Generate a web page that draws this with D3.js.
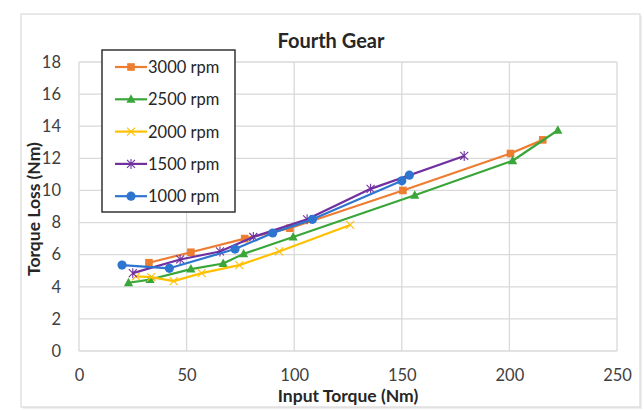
<!DOCTYPE html>
<html><head><meta charset="utf-8">
<script src="https://cdn.jsdelivr.net/npm/d3@7"></script>
<style>body{margin:0;background:#fff;}svg{display:block;font-family:Lato,"Noto Sans",sans-serif;}</style>
</head><body>
<script>
const seriesNames = ["3000 rpm","2500 rpm","2000 rpm","1500 rpm","1000 rpm"];
const seriesColors = ["#ED7D31","#3AA63A","#FFC000","#7030A0","#2E75D0"];
const seriesMarkers = ["square","triangle","x","star","circle"];
const rpm3000 = [[32.5,5.5],[52,6.15],[77,7.0],[98,7.65],[150.5,10.0],[200.5,12.3],[215.5,13.15]];
const rpm2500 = [[23,4.25],[33,4.45],[52,5.1],[67,5.45],[76.5,6.05],[99.5,7.1],[156,9.7],[201.5,11.85],[222.5,13.75]];
const rpm2000 = [[26.5,4.65],[33.5,4.6],[44,4.35],[57,4.85],[74.5,5.35],[93,6.2],[126,7.85]];
const rpm1500 = [[25,4.85],[47,5.7],[65.5,6.2],[81,7.1],[106,8.2],[135.5,10.1],[179,12.15]];
const rpm1000 = [[20,5.35],[42,5.15],[72.5,6.35],[90,7.35],[108.5,8.2],[150,10.6],[153.5,10.95]];
const seriesData = [rpm3000,rpm2500,rpm2000,rpm1500,rpm1000];
const xTicks = [0,50,100,150,200,250];
const yTicks = [0,2,4,6,8,10,12,14,16,18];
const title = "Fourth Gear", xTitle = "Input Torque (Nm)", yTitle = "Torque Loss (Nm)";

const W=644,H=410;
const FONT="Lato,'Noto Sans',sans-serif";
const svg=d3.select("body").append("svg").attr("width",W).attr("height",H);
// frame with faint shadow
svg.append("rect").attr("x",23).attr("y",16).attr("width",619).attr("height",393).attr("fill","#eeeeee");
svg.append("rect").attr("x",21).attr("y",14).attr("width",619).attr("height",393)
  .attr("fill","#fff").attr("stroke","#d9d9d9").attr("stroke-width",1.2);
const L=79,R=617,T=62,B=351;
const x=d3.scaleLinear().domain([0,250]).range([L,R]);
const y=d3.scaleLinear().domain([0,18]).range([B,T]);
// gridlines
svg.append("g").selectAll("line").data(yTicks).join("line")
  .attr("x1",L).attr("x2",R).attr("y1",d=>y(d)).attr("y2",d=>y(d))
  .attr("stroke","#d9d9d9").attr("stroke-width",1.3);
svg.append("g").selectAll("line").data(xTicks).join("line")
  .attr("y1",T).attr("y2",B).attr("x1",d=>x(d)).attr("x2",d=>x(d))
  .attr("stroke","#d9d9d9").attr("stroke-width",1.3);
// axes labels
const xa=svg.append("g").attr("transform",`translate(0,${B+18})`)
  .call(d3.axisBottom(x).tickValues(xTicks).tickSize(0).tickPadding(0));
const ya=svg.append("g").attr("transform",`translate(${L-18},0)`)
  .call(d3.axisLeft(y).tickValues(yTicks).tickSize(0).tickPadding(0));
[xa,ya].forEach(a=>{a.select(".domain").remove();a.selectAll("text").attr("font-family",FONT).attr("font-size",16.5).attr("fill","#404040");});
// titles
svg.append("text").attr("x",331).attr("y",48).attr("text-anchor","middle").attr("font-weight","bold").attr("font-size",20).attr("fill","#262626").text(title);
svg.append("text").attr("x",348).attr("y",402).attr("text-anchor","middle").attr("font-weight","bold").attr("font-size",17.5).attr("fill","#262626").text(xTitle);
svg.append("text").attr("transform","translate(40,209) rotate(-90)").attr("text-anchor","middle").attr("font-weight","bold").attr("font-size",17.5).attr("fill","#262626").text(yTitle);

function marker(g,type,color,cx,cy){
  if(type==="square") g.append("rect").attr("x",cx-3.8).attr("y",cy-3.8).attr("width",7.6).attr("height",7.6).attr("fill",color);
  else if(type==="triangle") g.append("path").attr("d",`M${cx},${cy-5}L${cx+4.6},${cy+3.5}L${cx-4.6},${cy+3.5}Z`).attr("fill",color);
  else if(type==="circle") g.append("circle").attr("cx",cx).attr("cy",cy).attr("r",4.6).attr("fill",color);
  else if(type==="x") g.append("path").attr("d",`M${cx-4},${cy-4}L${cx+4},${cy+4}M${cx-4},${cy+4}L${cx+4},${cy-4}`).attr("stroke",color).attr("stroke-width",1.1);
  else if(type==="star") g.append("path").attr("d",`M${cx-4},${cy-4}L${cx+4},${cy+4}M${cx-4},${cy+4}L${cx+4},${cy-4}M${cx},${cy-5}L${cx},${cy+5}`).attr("stroke",color).attr("stroke-width",1.1);
}
const line=d3.line().x(d=>x(d[0])).y(d=>y(d[1]));
seriesData.forEach((data,i)=>{
  const g=svg.append("g");
  g.append("path").datum(data).attr("d",line).attr("fill","none").attr("stroke",seriesColors[i]).attr("stroke-width",2.2).attr("stroke-linejoin","round");
  data.forEach(d=>marker(g,seriesMarkers[i],seriesColors[i],x(d[0]),y(d[1])));
});
// legend
const lg=svg.append("g");
lg.append("rect").attr("x",102).attr("y",50).attr("width",133).attr("height",162).attr("fill","#fff").attr("stroke","#262626").attr("stroke-width",1.4);
seriesNames.forEach((n,i)=>{
  const yy=67+i*32.3;
  lg.append("line").attr("x1",115).attr("x2",147).attr("y1",yy).attr("y2",yy).attr("stroke",seriesColors[i]).attr("stroke-width",2.2);
  marker(lg,seriesMarkers[i],seriesColors[i],131,yy);
  lg.append("text").attr("x",148).attr("y",yy+6).attr("font-family",FONT).attr("font-size",16.5).attr("fill","#262626").text(n);
});
</script>
</body></html>
